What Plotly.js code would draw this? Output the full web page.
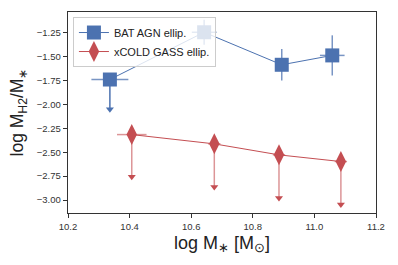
<!DOCTYPE html>
<html>
<head>
<meta charset="utf-8">
<script src="https://cdn.plot.ly/plotly-3.0.1.min.js"></script>
<style>html,body{margin:0;padding:0;background:#fff;}</style>
</head>
<body>
<div id="chart" style="width:398px;height:265px;"></div>
<script>
// BAT AGN ellipticals
const batX = [10.336, 10.642, 10.894, 11.058];
const batY = [-1.74, -1.246, -1.586, -1.488];
const batXerr = [0.06, 0.04, 0.02, 0.04];
const batYerr = [0, 0.13, 0.165, 0.21];
const batUplim = [0.31, 0, 0, 0];
// xCOLD GASS ellipticals (upper limits)
const xcgX = [10.407, 10.675, 10.885, 11.086];
const xcgY = [-2.316, -2.413, -2.528, -2.598];
const xcgXerr = [0.048, 0.02, 0.02, 0.02];
const xcgUplim = [0.44, 0.45, 0.45, 0.45];

const blue = '#4C72B0', red = '#C44E52';

function arrowTrace(xs, ys, lims, color, lineColor) {
  const lx = [], ly = [], mx = [], my = [];
  xs.forEach((x, i) => {
    if (lims[i] > 0) {
      lx.push(x, x, null); ly.push(ys[i], ys[i] - lims[i], null);
      mx.push(x); my.push(ys[i] - lims[i]);
    }
  });
  return [
    {x: lx, y: ly, mode: 'lines', line: {color: lineColor, width: 1.5}, showlegend: false, hoverinfo: 'skip'},
    {x: mx, y: my, mode: 'markers', marker: {symbol: 'triangle-down', size: 7, color: color}, showlegend: false, hoverinfo: 'skip'}
  ];
}

const traces = [
  ...arrowTrace(batX, batY, batUplim, blue, blue),
  ...arrowTrace(xcgX, xcgY, xcgUplim, red, 'rgba(196,78,82,0.6)'),
  {
    x: batX, y: batY, name: 'BAT AGN ellip.', mode: 'lines+markers',
    line: {color: blue, width: 1},
    marker: {symbol: 'square', size: 14, color: blue},
    error_x: {type: 'data', array: batXerr, visible: true, width: 0, color: 'rgba(76,114,176,0.75)', thickness: 1.5},
    error_y: {type: 'data', array: batYerr, visible: true, width: 0, color: 'rgba(76,114,176,0.75)', thickness: 1.5}
  },
  {
    x: xcgX, y: xcgY, name: 'xCOLD GASS ellip.', mode: 'lines+markers',
    line: {color: red, width: 1},
    marker: {symbol: 'diamond-tall', size: 15, color: red},
    error_x: {type: 'data', array: xcgXerr, visible: true, width: 0, color: 'rgba(196,78,82,0.6)', thickness: 1.5}
  }
];

const layout = {
  width: 398, height: 265,
  margin: {l: 68, r: 22, t: 12, b: 52},
  paper_bgcolor: '#fff', plot_bgcolor: '#fff',
  font: {family: 'Liberation Sans, Arial, sans-serif', color: '#222'},
  showlegend: true,
  legend: {x: 0.016, y: 0.975, xanchor: 'left', yanchor: 'top',
    bgcolor: 'rgba(255,255,255,0.8)', bordercolor: '#ccc', borderwidth: 1,
    font: {size: 11, color: '#222'}, tracegroupgap: 0},
  xaxis: {
    range: [10.2, 11.2], dtick: 0.2, tick0: 10.2, tickformat: '.1f',
    showgrid: false, zeroline: false, showline: true, mirror: true,
    linecolor: '#333', linewidth: 1.3, ticks: 'outside', ticklen: 4, tickcolor: '#333',
    tickfont: {size: 9.5, color: '#333'},
    title: {text: 'log M<sub>∗</sub> [M<sub>⊙</sub>]', font: {size: 18, color: '#222'}, standoff: 5}
  },
  yaxis: {
    range: [-3.136, -1.034], dtick: 0.25, tick0: -3, tickformat: '.2f',
    showgrid: false, zeroline: false, showline: true, mirror: true,
    linecolor: '#333', linewidth: 1.3, ticks: 'outside', ticklen: 4, tickcolor: '#333',
    tickfont: {size: 9.5, color: '#333'},
    title: {text: 'log M<sub>H2</sub>/M<sub>∗</sub>', font: {size: 17.5, color: '#222'}, standoff: 8}
  }
};

Plotly.newPlot('chart', traces, layout, {displayModeBar: false, staticPlot: true});
</script>
</body>
</html>
